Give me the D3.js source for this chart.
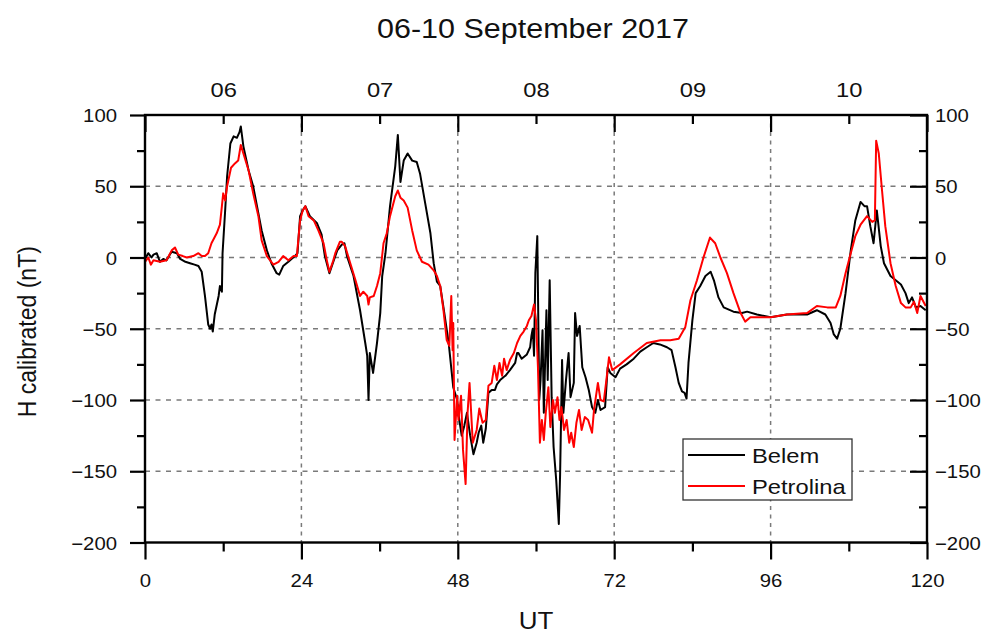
<!DOCTYPE html>
<html>
<head>
<meta charset="utf-8">
<script src="https://cdn.jsdelivr.net/npm/d3@7"></script>
<style>
  html, body { margin: 0; padding: 0; background: #fff; }
  svg { display: block; }
  text { font-family: "Liberation Sans", Arial, sans-serif; fill: #111; }
</style>
</head>
<body>
<svg id="chart" width="991" height="635"></svg>
<script>
// Geomagnetic H component (calibrated, nT) vs universal time, 06-10 September 2017
const titleText = "06-10 September 2017";
const xTitle = "UT";
const yTitle = "H calibrated (nT)";

const xMajorTicks = [0, 24, 48, 72, 96, 120];
const xMinorTicks = [12, 36, 60, 84, 108];
const dayLabels = ["06", "07", "08", "09", "10"];
const yMajorTicks = [-200, -150, -100, -50, 0, 50, 100];
const yMinorTicks = [-175, -125, -75, -25, 25, 75];
const xGrid = [24, 48, 72, 96];
const yGrid = [-150, -100, -50, 0, 50];

// [hour UT, H (nT)]
const belem = [
  [0,-1],[0.5,3],[1.0,0],[1.3,2],[1.8,3],[2.3,-3],[2.8,-1],[3.3,-2],[3.8,2],[4.1,4],[4.9,3],[5.4,-1],
  [6.2,-3],[6.9,-4],[7.6,-5],[8.2,-6],[8.7,-10],[9.2,-27],[9.7,-47],[10.0,-50],[10.2,-47],[10.4,-52],
  [10.7,-40],[11.3,-27],[11.5,-20],[11.8,-24],[11.9,3],[12.3,33],[12.6,57],[13.1,80],[13.6,85],[14.1,84],
  [14.5,88],[14.7,92],[15.1,78],[15.9,61],[16.6,50],[17.4,31],[17.9,19],[18.7,5],[19.4,-4],[20.2,-11],
  [20.6,-12],[21.2,-6],[22.0,-3],[23.0,1],[23.4,3],[23.8,29],[24.2,33],[24.6,36],[25.3,29],[26.4,24],
  [27.1,16],[27.6,1],[28.3,-11],[28.9,-3],[29.5,5],[30.2,9],[30.6,10],[31.0,1],[32.0,-13],[33.0,-37],
  [33.8,-60],[34.1,-69],[34.3,-100],[34.5,-67],[35.0,-81],[35.6,-60],[36.1,-39],[36.4,-13],[36.9,3],
  [37.6,36],[38.4,64],[38.8,86],[39.2,53],[39.7,68],[40.3,73],[41.0,68],[41.7,67],[42.2,59],[43.0,38],
  [43.8,17],[44.3,-4],[44.8,-17],[45.3,-20],[45.8,-35],[46.6,-60],[47.3,-91],[47.9,-100],[48.1,-110],
  [48.6,-125],[49.0,-118],[49.4,-109],[49.9,-125],[50.4,-138],[50.9,-130],[51.2,-123],[51.6,-118],
  [51.9,-130],[52.3,-120],[52.7,-95],[53.2,-93],[53.7,-93],[54.0,-89],[54.5,-86],[55.0,-84],[55.3,-83],
  [56.0,-79],[56.8,-74],[57.1,-67],[57.3,-67],[57.8,-71],[58.6,-68],[59.1,-63],[59.3,-55],[59.5,-50],
  [59.7,-69],[59.9,-11],[60.2,15],[60.5,-100],[60.7,-86],[61.0,-51],[61.2,-109],[61.6,-37],[61.8,-86],
  [62.1,-16],[62.4,-98],[62.7,-133],[63.1,-156],[63.5,-187],[63.7,-152],[64.0,-72],[64.2,-109],
  [64.6,-86],[65.0,-67],[65.3,-98],[65.8,-88],[66.0,-39],[66.3,-55],[66.7,-48],[67.1,-77],[67.6,-84],
  [68.1,-93],[68.6,-105],[69.1,-109],[69.5,-100],[69.9,-107],[70.6,-105],[71.0,-77],[71.4,-81],
  [72.2,-84],[72.9,-78],[73.9,-75],[75.0,-71],[76.0,-66],[77.0,-63],[78.0,-60],[79.0,-61],[80.1,-63],
  [80.8,-65],[81.4,-77],[81.9,-88],[82.4,-94],[82.8,-95],[83.1,-99],[83.4,-74],[84.0,-44],[84.5,-25],
  [85.2,-20],[86.0,-13],[86.8,-10],[87.3,-16],[88.0,-28],[88.8,-35],[90.3,-38],[91.6,-39],[92.4,-38],
  [93.9,-40],[96.0,-42],[98.5,-40],[101.6,-40],[103.1,-37],[104.4,-40],[105.2,-46],[105.7,-54],
  [106.2,-57],[106.7,-50],[107.5,-25],[108.3,5],[109.0,26],[109.8,39],[110.4,36],[110.8,36],[111.3,22],
  [111.8,10],[112.3,33],[112.9,8],[113.4,-4],[114.4,-13],[115.2,-16],[116.0,-19],[116.7,-25],[117.2,-32],
  [117.7,-28],[118.3,-35],[119.0,-34],[119.8,-37]
];

const petrolina = [
  [0,-3],[0.5,0],[0.9,-5],[1.3,-2],[2.3,-3],[3.3,-2],[4.1,5],[4.6,7],[5.1,2],[5.8,1],[6.4,0],[7.4,1],
  [8.2,3],[8.7,1],[9.2,1],[9.7,3],[10.2,10],[11.0,17],[11.5,23],[11.8,36],[12.0,45],[12.3,40],[12.6,50],
  [13.2,63],[13.8,66],[14.3,68],[14.7,79],[15.1,73],[15.9,61],[16.6,45],[17.4,29],[17.9,12],[18.7,1],
  [19.7,-5],[20.5,-3],[21.2,1],[22.0,-2],[22.8,1],[23.3,1],[23.8,26],[24.2,33],[24.6,36],[25.1,29],
  [25.9,26],[26.6,19],[27.4,10],[27.9,-2],[28.3,-10],[28.9,-2],[29.2,3],[29.9,11],[30.2,11],[30.7,8],
  [31.5,-4],[32.3,-16],[33.0,-27],[33.5,-24],[34.1,-27],[34.3,-33],[34.5,-28],[35.1,-27],[35.6,-20],
  [36.1,-11],[36.6,10],[37.1,17],[37.6,29],[38.4,43],[38.8,47],[39.2,42],[39.7,40],[40.3,35],[41.0,19],
  [41.7,5],[42.5,-3],[43.5,-5],[44.3,-9],[44.8,-13],[45.3,-20],[45.8,-37],[46.3,-58],[46.7,-62],
  [47.0,-27],[47.2,-65],[47.3,-46],[47.5,-128],[47.9,-97],[48.1,-114],[48.5,-97],[48.8,-135],
  [49.2,-159],[49.5,-109],[49.8,-88],[50.3,-130],[50.9,-121],[51.3,-106],[51.8,-116],[52.3,-114],
  [52.7,-90],[53.2,-88],[53.6,-76],[54.0,-86],[54.4,-74],[54.8,-83],[55.1,-71],[55.5,-79],[56.0,-72],
  [56.6,-67],[57.1,-60],[57.6,-55],[58.1,-52],[58.6,-48],[58.9,-44],[59.3,-41],[59.7,-33],[60.0,-44],
  [60.3,-77],[60.6,-130],[60.9,-114],[61.2,-128],[61.5,-109],[61.9,-91],[62.2,-119],[62.6,-100],
  [62.9,-109],[63.3,-98],[63.6,-114],[63.9,-105],[64.3,-121],[64.7,-114],[65.1,-130],[65.4,-123],
  [65.8,-133],[66.2,-116],[66.6,-107],[67.0,-121],[67.5,-112],[68.0,-114],[68.6,-123],[68.9,-107],
  [69.5,-88],[69.9,-100],[70.4,-101],[70.8,-86],[71.2,-70],[71.7,-79],[72.9,-75],[75.0,-67],[77.0,-60],
  [79.1,-58],[80.6,-58],[81.9,-57],[82.9,-49],[83.7,-30],[84.7,-16],[85.7,0],[86.7,14],[87.5,10],
  [88.3,0],[89.3,-11],[90.3,-25],[91.4,-39],[92.1,-45],[92.9,-42],[94.4,-42],[96.0,-42],[98.5,-40],
  [101.6,-39],[103.1,-34],[104.7,-35],[106.0,-35],[106.7,-27],[107.5,-11],[108.3,3],[109.0,15],
  [109.8,23],[110.8,29],[111.6,25],[112.0,26],[112.2,82],[112.6,73],[113.1,47],[113.6,22],[114.4,-4],
  [115.2,-20],[116.0,-32],[116.7,-35],[117.5,-35],[118.0,-31],[118.5,-39],[119.0,-27],[119.8,-34]
];

const series = [
  { name: "Belem", data: belem, color: "#000000" },
  { name: "Petrolina", data: petrolina, color: "#ff0000" }
];

// ---- layout ----
const plotLeft = 145, plotRight = 927, plotTop = 115, plotBottom = 542.5;
const sx = 1.13; // horizontal glyph stretch used for all labels
const font = '"Liberation Sans", Arial, sans-serif';

const svg = d3.select("#chart");
const x = d3.scaleLinear().domain([0, 120]).range([plotLeft, plotRight]);
const y = d3.scaleLinear().domain([-200, 100]).range([plotBottom, plotTop]);

// grid
const grid = svg.append("g").attr("stroke", "#7a7a7a").attr("stroke-width", 1.5);
grid.selectAll("line.h").data(yGrid).join("line").attr("class", "h")
  .attr("x1", plotLeft).attr("x2", plotRight)
  .attr("y1", d => y(d)).attr("y2", d => y(d))
  .attr("stroke-dasharray", "5,5.5");
grid.selectAll("line.v").data(xGrid).join("line").attr("class", "v")
  .attr("y1", plotTop).attr("y2", plotBottom)
  .attr("x1", d => x(d)).attr("x2", d => x(d))
  .attr("stroke-dasharray", "4,4.5");

// data lines
svg.append("clipPath").attr("id", "plotclip").append("rect")
  .attr("x", plotLeft).attr("y", plotTop)
  .attr("width", plotRight - plotLeft).attr("height", plotBottom - plotTop);
const line = d3.line().x(d => x(d[0])).y(d => y(d[1]));
svg.append("g").attr("clip-path", "url(#plotclip)")
  .selectAll("path").data(series).join("path")
  .attr("d", d => line(d.data))
  .attr("fill", "none")
  .attr("stroke", d => d.color)
  .attr("stroke-width", 2)
  .attr("stroke-linejoin", "round");

// axes
function styleAxis(g) {
  g.select(".domain").remove();
  g.selectAll(".tick line").attr("stroke", "#000").attr("stroke-width", 2.2);
  g.selectAll(".tick text").attr("font-family", font).attr("fill", "#111");
}
function stretchText(sel, size, anchor, dx, dy) {
  sel.attr("font-size", size).attr("text-anchor", anchor)
    .attr("x", null).attr("y", null).attr("dy", null)
    .attr("transform", `translate(${dx},${dy}) scale(${sx},1)`);
}

// bottom
const bMaj = svg.append("g").attr("transform", `translate(0,${plotBottom})`)
  .call(d3.axisBottom(x).tickValues(xMajorTicks).tickSize(17).tickSizeOuter(0).tickFormat(d3.format("d")));
styleAxis(bMaj);
stretchText(bMaj.selectAll(".tick text"), 18, "middle", 0, 44.5);
const bMin = svg.append("g").attr("transform", `translate(0,${plotBottom})`)
  .call(d3.axisBottom(x).tickValues(xMinorTicks).tickSize(9).tickSizeOuter(0).tickFormat(""));
styleAxis(bMin);

// top (inward ticks, day labels at mid-day)
const tMaj = svg.append("g").attr("transform", `translate(0,${plotTop})`)
  .call(d3.axisTop(x).tickValues(xMajorTicks).tickSize(-17).tickSizeOuter(0).tickFormat(""));
styleAxis(tMaj);
const tMin = svg.append("g").attr("transform", `translate(0,${plotTop})`)
  .call(d3.axisTop(x).tickValues(xMinorTicks).tickSize(-9).tickSizeOuter(0)
    .tickFormat((d, i) => dayLabels[i]));
styleAxis(tMin);
stretchText(tMin.selectAll(".tick text"), 21, "middle", 0, -18);

// left (outward ticks)
const lMaj = svg.append("g").attr("transform", `translate(${plotLeft},0)`)
  .call(d3.axisLeft(y).tickValues(yMajorTicks).tickSize(15).tickSizeOuter(0).tickFormat(d3.format("d")));
styleAxis(lMaj);
stretchText(lMaj.selectAll(".tick text"), 18, "end", -28, 6.5);
const lMin = svg.append("g").attr("transform", `translate(${plotLeft},0)`)
  .call(d3.axisLeft(y).tickValues(yMinorTicks).tickSize(8).tickSizeOuter(0).tickFormat(""));
styleAxis(lMin);

// right (inward ticks)
const rMaj = svg.append("g").attr("transform", `translate(${plotRight},0)`)
  .call(d3.axisRight(y).tickValues(yMajorTicks).tickSize(-17).tickSizeOuter(0).tickFormat(d3.format("d")));
styleAxis(rMaj);
stretchText(rMaj.selectAll(".tick text"), 18, "start", 8, 6.5);
const rMin = svg.append("g").attr("transform", `translate(${plotRight},0)`)
  .call(d3.axisRight(y).tickValues(yMinorTicks).tickSize(-8).tickSizeOuter(0).tickFormat(""));
styleAxis(rMin);

// frame
svg.append("rect").attr("x", plotLeft).attr("y", plotTop)
  .attr("width", plotRight - plotLeft).attr("height", plotBottom - plotTop)
  .attr("fill", "none").attr("stroke", "#000").attr("stroke-width", 2.4);

// titles
svg.append("text").text(titleText)
  .attr("font-size", 27).attr("text-anchor", "middle")
  .attr("transform", `translate(${(plotLeft + plotRight) / 2 - 3},38) scale(${sx},1)`);
svg.append("text").text(xTitle)
  .attr("font-size", 23).attr("text-anchor", "middle")
  .attr("transform", `translate(${(plotLeft + plotRight) / 2},629) scale(${sx},1)`);
svg.append("text").text(yTitle)
  .attr("font-size", 23).attr("text-anchor", "middle")
  .attr("transform", `translate(36,${(plotTop + plotBottom) / 2 + 3}) rotate(-90) scale(1,${sx})`);

// legend
const lg = svg.append("g").attr("transform", "translate(683,439)");
lg.append("rect").attr("width", 169).attr("height", 61)
  .attr("fill", "#fff").attr("stroke", "#333").attr("stroke-width", 1.3);
const items = lg.selectAll("g.item").data(series).join("g").attr("class", "item")
  .attr("transform", (d, i) => `translate(0,${16 + i * 31})`);
items.append("line").attr("x1", 5).attr("x2", 62).attr("y1", 0).attr("y2", 0)
  .attr("stroke", d => d.color).attr("stroke-width", 2);
items.append("text").text(d => d.name)
  .attr("font-size", 21)
  .attr("transform", `translate(69,7.5) scale(${sx},1)`);
</script>
</body>
</html>
